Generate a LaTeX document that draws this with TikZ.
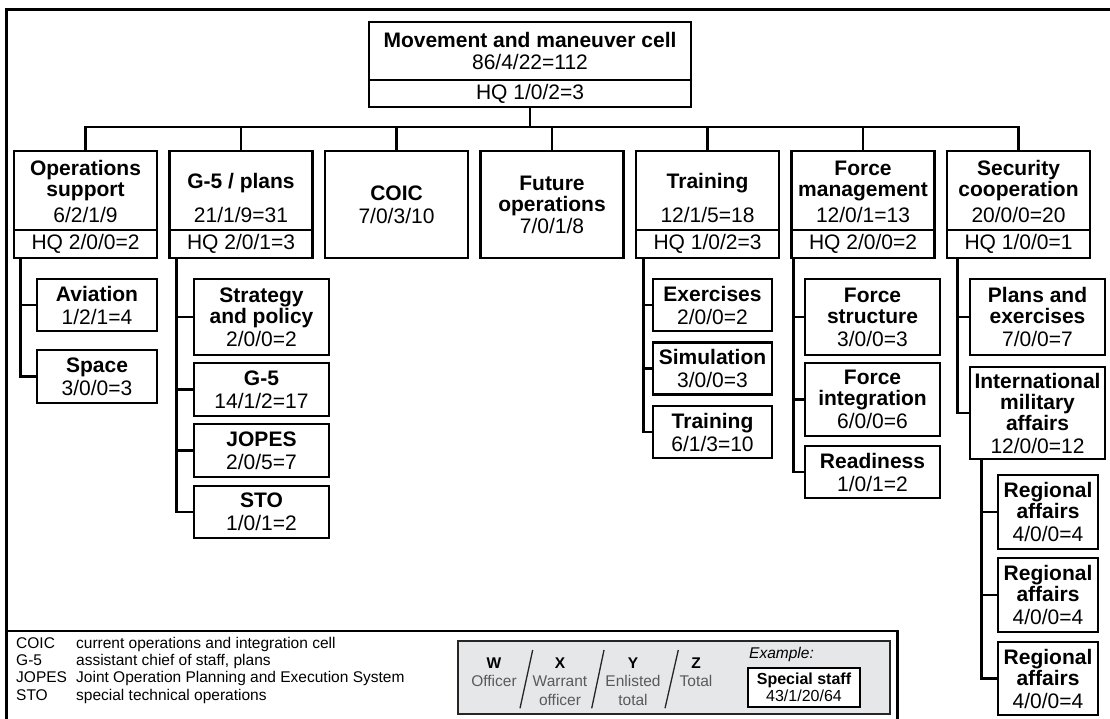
\documentclass[tikz,border=0pt]{standalone}
\usepackage{fontspec}
\setmainfont{Liberation Sans}
\usetikzlibrary{calc}

\definecolor{keyfill}{HTML}{E6E7E8}
\definecolor{keytext}{HTML}{5A5A5A}

\newcommand\cellfont{\fontsize{21}{21}\selectfont}
\newcommand\legendfont{\fontsize{15.5}{17.3}\selectfont}
\newcommand\keyfont{\fontsize{15.5}{18.4}\selectfont}
% invisible rule that lifts the first line of a cell
\newcommand\lift[1]{\rule{0pt}{#1pt}}

\tikzset{
  frame/.style={line width=3pt},
  conn/.style={line width=2.6pt},
  cell/.style={draw, line width=2.6pt, inner sep=0pt, align=center, font=\cellfont},
  hqrow/.style={cell, minimum height=28pt},
  keyslash/.style={line width=1.3pt, draw=black!85},
  keycol/.style={inner sep=0pt, align=center, anchor=north, font=\keyfont},
}

\begin{document}
\begin{tikzpicture}[x=1pt, y=-1pt, line join=miter]
\useasboundingbox (0,0) rectangle (1110,719);

% outer frame and legend separator
\draw[frame] (1110,9.5) -- (6.5,9.5) -- (6.5,719);
\draw[conn] (6.5,631) -- (897.5,631) -- (897.5,719);

% ---------- top cell ----------
\node[cell, minimum width=322pt, minimum height=58pt] (mmc) at (530,51)
  {\textbf{Movement and maneuver cell}\\[1pt]86/4/22=112};
\node[hqrow, minimum width=322pt, minimum height=27pt] (mmchq) at (530,93.5) {HQ 1/0/2=3};

% ---------- second level ----------
\node[cell, minimum width=143pt, minimum height=79pt] (ops) at (85.5,190.5)
  {\lift{18}\textbf{Operations}\\\textbf{support}\\[5pt]6/2/1/9};
\node[hqrow, minimum width=143pt] (opshq) at (85.5,244) {HQ 2/0/0=2};

\node[cell, minimum width=143pt, minimum height=79pt] (gfp) at (241,190.5)
  {\lift{31}\textbf{G-5 / plans}\\[13pt]21/1/9=31};
\node[hqrow, minimum width=143pt] (gfphq) at (241,244) {HQ 2/0/1=3};

\node[cell, minimum width=143pt, minimum height=107pt] (coic) at (396.5,204.5)
  {\textbf{COIC}\\[2pt]7/0/3/10};

\node[cell, minimum width=143pt, minimum height=107pt] (fut) at (552,204.5)
  {\textbf{Future}\\\textbf{operations}\\[1pt]7/0/1/8};

\node[cell, minimum width=143pt, minimum height=79pt] (trn) at (707.5,190.5)
  {\lift{31}\textbf{Training}\\[13pt]12/1/5=18};
\node[hqrow, minimum width=143pt] (trnhq) at (707.5,244) {HQ 1/0/2=3};

\node[cell, minimum width=143pt, minimum height=79pt] (fm) at (863,190.5)
  {\lift{18}\textbf{Force}\\\textbf{management}\\[5pt]12/0/1=13};
\node[hqrow, minimum width=143pt] (fmhq) at (863,244) {HQ 2/0/0=2};

\node[cell, minimum width=143pt, minimum height=79pt] (sc) at (1018.5,190.5)
  {\lift{18}\textbf{Security}\\\textbf{cooperation}\\[5pt]20/0/0=20};
\node[hqrow, minimum width=143pt] (schq) at (1018.5,244) {HQ 1/0/0=1};

% bus from the top cell to the second level
\coordinate (bus) at (0,127);
\draw[conn] (mmchq.south) -- (mmchq.south |- bus);
\draw[conn] (ops.north) -- (ops.north |- bus) -- (sc.north |- bus) -- (sc.north);
\foreach \n in {gfp,coic,fut,trn,fm}
  \draw[conn] (\n.north) -- (\n.north |- bus);

% ---------- operations support ----------
\node[cell, minimum width=120pt, minimum height=52pt] (avi) at (97,305)
  {\textbf{Aviation}\\[2pt]1/2/1=4};
\node[cell, minimum width=120pt, minimum height=53pt] (spc) at (97,376.5)
  {\textbf{Space}\\[2pt]3/0/0=3};
\coordinate (opsT) at ([xshift=8pt]opshq.south west);
\draw[conn] (opsT) |- (spc.west);
\draw[conn] (avi.west) -- (avi.west -| opsT);

% ---------- G-5 / plans ----------
\node[cell, minimum width=135pt, minimum height=76pt] (strat) at (261.5,317)
  {\textbf{Strategy}\\\textbf{and policy}\\[2pt]2/0/0=2};
\node[cell, minimum width=135pt, minimum height=53pt] (gf) at (261.5,389.5)
  {\textbf{G-5}\\[2pt]14/1/2=17};
\node[cell, minimum width=135pt, minimum height=53pt] (jopes) at (261.5,450.5)
  {\textbf{JOPES}\\[2pt]2/0/5=7};
\node[cell, minimum width=135pt, minimum height=52pt] (sto) at (261.5,512)
  {\textbf{STO}\\[2pt]1/0/1=2};
\coordinate (gfpT) at ([xshift=8.5pt]gfphq.south west);
\draw[conn] (gfpT) |- (sto.west);
\foreach \n in {strat,gf,jopes}
  \draw[conn] (\n.west) -- (\n.west -| gfpT);

% ---------- training ----------
\node[cell, minimum width=119pt, minimum height=52pt] (exer) at (712.5,305)
  {\textbf{Exercises}\\[2pt]2/0/0=2};
\node[cell, minimum width=119pt, minimum height=52pt] (sim) at (712.5,368.5)
  {\textbf{Simulation}\\[2pt]3/0/0=3};
\node[cell, minimum width=119pt, minimum height=52pt] (trs) at (712.5,432)
  {\textbf{Training}\\[2pt]6/1/3=10};
\coordinate (trnT) at ([xshift=9pt]trnhq.south west);
\draw[conn] (trnT) |- (trs.west);
\foreach \n in {exer,sim}
  \draw[conn] (\n.west) -- (\n.west -| trnT);

% ---------- force management ----------
\node[cell, minimum width=135pt, minimum height=76pt] (fstr) at (872.5,317)
  {\textbf{Force}\\\textbf{structure}\\[2pt]3/0/0=3};
\node[cell, minimum width=135pt, minimum height=73pt] (fint) at (872.5,399.5)
  {\textbf{Force}\\\textbf{integration}\\[2pt]6/0/0=6};
\node[cell, minimum width=135pt, minimum height=52pt] (rdy) at (872.5,472)
  {\textbf{Readiness}\\[2pt]1/0/1=2};
\coordinate (fmT) at ([xshift=3pt]fmhq.south west);
\draw[conn] (fmT) |- (rdy.west);
\foreach \n in {fstr,fint}
  \draw[conn] (\n.west) -- (\n.west -| fmT);

% ---------- security cooperation ----------
\node[cell, minimum width=135pt, minimum height=76pt] (pex) at (1037.5,317)
  {\textbf{Plans and}\\\textbf{exercises}\\[2pt]7/0/0=7};
\node[cell, minimum width=135pt, minimum height=92pt] (ima) at (1037.5,413)
  {\textbf{International}\\\textbf{military}\\\textbf{affairs}\\[2pt]12/0/0=12};
\coordinate (scT) at ([xshift=12pt]schq.south west);
\draw[conn] (scT) |- (ima.west);
\draw[conn] (pex.west) -- (pex.west -| scT);

\node[cell, minimum width=100pt, minimum height=74pt] (rgA) at (1048,512)
  {\textbf{Regional}\\\textbf{affairs}\\[2pt]4/0/0=4};
\node[cell, minimum width=100pt, minimum height=74pt] (rgB) at (1048,595)
  {\textbf{Regional}\\\textbf{affairs}\\[2pt]4/0/0=4};
\node[cell, minimum width=100pt, minimum height=73pt] (rgC) at (1048,678.5)
  {\textbf{Regional}\\\textbf{affairs}\\[2pt]4/0/0=4};
\coordinate (imaT) at ([xshift=13pt]ima.south west);
\draw[conn] (imaT) |- (rgC.west);
\foreach \n in {rgA,rgB}
  \draw[conn] (\n.west) -- (\n.west -| imaT);

% ---------- abbreviations ----------
\node[anchor=north west, inner sep=0pt, font=\legendfont] (abbr) at (16,636)
  {\begin{tabular}{@{}p{60pt}@{}l@{}}
   COIC  & current operations and integration cell\\
   G-5   & assistant chief of staff, plans\\
   JOPES & Joint Operation Planning and Execution System\\
   STO   & special technical operations
   \end{tabular}};

% ---------- key to the figures ----------
\node[draw=black!85, fill=keyfill, line width=1.6pt, minimum width=432pt,
      minimum height=73pt, inner sep=0pt] (key) at (674,677.5) {};
\node[keycol] (kw) at (494,657.7) {\textbf{W}\\{\color{keytext}Officer}};
\node[keycol] (kx) at (560,657.7) {\textbf{X}\\{\color{keytext}Warrant}\\{\color{keytext}officer}};
\node[keycol] (ky) at (633,657.7) {\textbf{Y}\\{\color{keytext}Enlisted}\\{\color{keytext}total}};
\node[keycol] (kz) at (696,657.7) {\textbf{Z}\\{\color{keytext}Total}};
\draw[keyslash] (532.7,650) -- (520,708.3);
\draw[keyslash] (604,650) -- (591.7,708.3);
\draw[keyslash] (678.3,650) -- (665,708.3);

\node[anchor=base west, inner sep=0pt, font=\itshape\keyfont] (exlabel) at (749,658.5) {Example:};
\node[draw, fill=white, line width=2pt, minimum width=112pt, minimum height=39pt,
      inner sep=0pt, align=center, font=\fontsize{16}{17}\selectfont] (exbox) at (804,687.5)
  {\textbf{Special staff}\\43/1/20/64};
\end{tikzpicture}
\end{document}
